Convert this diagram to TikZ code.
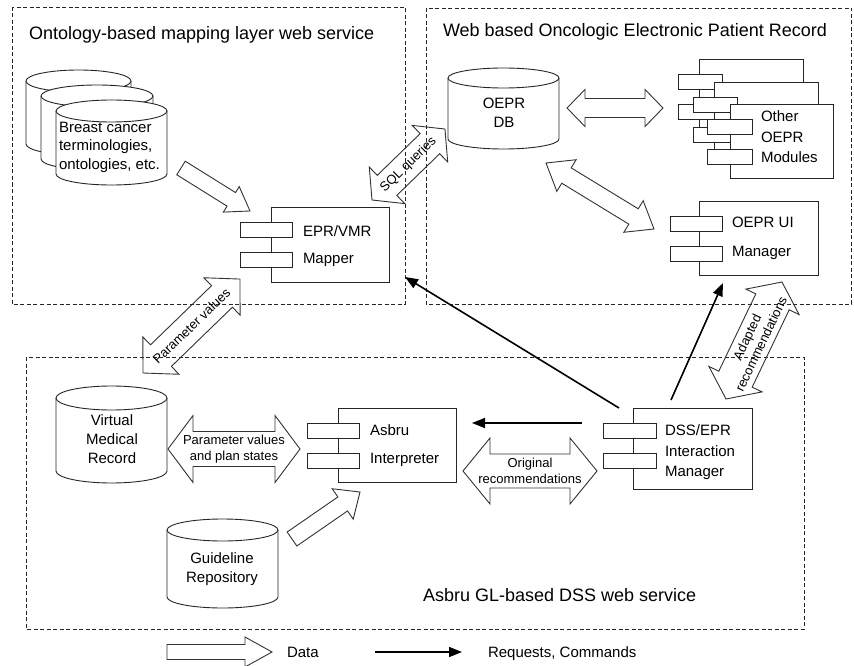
\documentclass[tikz,border=0pt]{standalone}
\usepackage{fontspec}
\setmainfont{Liberation Sans}
\usetikzlibrary{calc,arrows.meta}
\tikzset{
  every node/.style={inner sep=0pt, outer sep=0pt, text=black},
  region/.style={draw=black!85, line width=0.8pt, dash pattern=on 4pt off 2.5pt},
  comp/.style={draw=black!85, line width=0.9pt, fill=white},
  cylb/.style={draw=black!85, line width=0.9pt, fill=white},
  fat/.style={draw=black!80, line width=0.9pt, line join=miter},
  req/.style={draw=black, line width=1.6pt, -{Triangle[length=13pt,width=10pt]}},
  title/.style={font=\fontsize{18}{22}\selectfont, anchor=base west},
  lbl/.style={font=\fontsize{15}{19}\selectfont, anchor=base west},
  cyltext/.style={font=\fontsize{15}{19}\selectfont, align=center},
  arrlabel/.style={font=\fontsize{13}{15.5}\selectfont, align=center},
}
% double fat arrow: from, to, shaft half width, head half width, head length, label
\newcommand\fatdouble[6]{%
  \draw[fat] let \p1=($(#2)-(#1)$), \n1={atan2(\y1,\x1)}, \n2={veclen(\x1,\y1)} in
   [shift={(#1)}, rotate=\n1]
   (0pt,0pt) -- (#5pt,#4pt) -- (#5pt,#3pt) -- (\n2-#5pt,#3pt) -- (\n2-#5pt,#4pt) -- (\n2+0pt,0pt)
   -- (\n2-#5pt,-#4pt) -- (\n2-#5pt,-#3pt) -- (#5pt,-#3pt) -- (#5pt,-#4pt) -- cycle
   (\n2/2+0pt,0pt) node[arrlabel, rotate=\n1] {#6};}
% single fat arrow: from, to, shaft half width, head half width, head length
\newcommand\fatsingle[5]{%
  \draw[fat] let \p1=($(#2)-(#1)$), \n1={atan2(\y1,\x1)}, \n2={veclen(\x1,\y1)} in
   [shift={(#1)}, rotate=\n1]
   (0pt,-#3pt) -- (\n2-#5pt,-#3pt) -- (\n2-#5pt,-#4pt) -- (\n2+0pt,0pt)
   -- (\n2-#5pt,#4pt) -- (\n2-#5pt,#3pt) -- (0pt,#3pt) -- cycle;}
% cylinder: cx, rx, top, bottom, ry
\newcommand\cylinder[5]{%
  \draw[cylb] (#1-#2,#3+#5) -- (#1-#2,#4-#5)
    arc[start angle=180,end angle=360,x radius=#2pt,y radius=#5pt]
    -- (#1+#2,#3+#5)
    arc[start angle=0,end angle=180,x radius=#2pt,y radius=#5pt] -- cycle;
  \draw[cylb, fill=none] (#1-#2,#3+#5) arc[start angle=180,end angle=360,x radius=#2pt,y radius=#5pt];}
% component: name, left, top, right, bottom, small-left offset, small-right offset
\newcommand\component[7]{%
  \node[comp, anchor=north west, minimum width={#4-#2}, minimum height={#5-#3}] (#1) at (#2,#3) {};
  \draw[comp] (#2-#6,#3+15) rectangle (#2+#7,#3+30);
  \draw[comp] (#2-#6,#3+45) rectangle (#2+#7,#3+60);}

\begin{document}
\begin{tikzpicture}[x=1pt,y=-1pt]
\fill[white] (0,0) rectangle (854,666);
\useasboundingbox (0,0) rectangle (854,666);

% regions
\draw[region] (12,7) rectangle (405,304);
\draw[region] (426,8) rectangle (851.5,304);
\draw[region] (26,357) rectangle (804,629);
\node[title] (t1) at (29,39.5) {Ontology-based mapping layer web service};
\node[title] (t2) at (443,36.5) {Web based Oncologic Electronic Patient Record};
\node[title] (t3) at (423,601.5) {Asbru GL-based DSS web service};

% coordinates for fat arrows
\coordinate (sqlA) at (372,200);   \coordinate (sqlB) at (445,129);
\coordinate (pvA) at (143,373);    \coordinate (pvB) at (240,279);
\coordinate (adA) at (726,399);    \coordinate (adB) at (782,282);
\coordinate (psA) at (168,449);    \coordinate (psB) at (300,449);
\coordinate (orA) at (463,471);    \coordinate (orB) at (597,471);
\coordinate (dmA) at (567,108);    \coordinate (dmB) at (663,108);
\coordinate (duA) at (546,163);    \coordinate (duB) at (654,229);
\coordinate (bcA) at (181,168);    \coordinate (bcB) at (250,211);
\coordinate (glA) at (292,539);    \coordinate (glB) at (360,492);
\coordinate (lgA) at (167,652);    \coordinate (lgB) at (272,652);

\fatdouble{sqlA}{sqlB}{14}{25.5}{21}{SQL queries}
\fatdouble{pvA}{pvB}{15}{26}{25}{Parameter values}
\fatdouble{adA}{adB}{18.5}{29.5}{22}{Adapted\\recommendations}
\fatdouble{psA}{psB}{17.5}{33.5}{25}{Parameter values\\and plan states}
\fatdouble{orA}{orB}{17}{33}{27}{Original\\recommendations}
\fatdouble{dmA}{dmB}{9.5}{18.5}{18}{}
\fatdouble{duA}{duB}{9}{18.5}{24}{}
\fatsingle{bcA}{bcB}{8}{15}{22}
\fatsingle{glA}{glB}{8.5}{18.5}{21}
\fatsingle{lgA}{lgB}{7.5}{15}{27}

% cylinders
\cylinder{78.5}{52.5}{70}{155}{11}
\cylinder{97}{56}{85}{170}{11}
\cylinder{111.5}{55.5}{100}{185}{11}
\node[font=\fontsize{15}{18.5}\selectfont, align=left, anchor=west] (bc) at (59,147) {Breast cancer\\terminologies,\\ontologies, etc.};
\cylinder{503.5}{55.5}{68}{149}{10}
\node[cyltext] (oeprdb) at (504,113) {OEPR\\DB};
\cylinder{111.5}{55.5}{386}{483}{12}
\node[cyltext] (vmr) at (112,439) {Virtual\\Medical\\Record};
\cylinder{222.5}{55.5}{519}{608}{11}
\node[cyltext] (glr) at (222,569) {Guideline\\Repository};

% components
\component{mapper}{271}{207}{389}{282}{31}{21}
\node[lbl] at (303,236.5) {EPR/VMR};
\node[lbl] at (303,263.5) {Mapper};
\component{ui}{699}{201}{818}{275}{29}{23}
\node[lbl] at (732,227.5) {OEPR UI};
\node[lbl] at (732,256.5) {Manager};
\component{dss}{633}{408}{752}{489}{30}{23}
\node[lbl] at (665,435.5) {DSS/EPR};
\node[lbl] at (665,456.5) {Interaction};
\node[lbl] at (665,476.5) {Manager};
\component{asbru}{338}{408}{456}{482}{31}{21}
\node[lbl] at (370,435.5) {Asbru};
\node[lbl] at (370,463.5) {Interpreter};
\component{modA}{699}{59}{803}{133}{21}{23}
\component{modB}{714}{82}{818}{156}{21}{23}
\component{modC}{730}{104}{833}{178}{23}{22}
\node[lbl] at (761,121.5) {Other};
\node[lbl] at (761,142.5) {OEPR};
\node[lbl] at (761,162.5) {Modules};

% requests
\coordinate (r1s) at (619,408); \coordinate (r1e) at (405,277);
\coordinate (r2s) at (671,400); \coordinate (r2e) at (723,283);
\coordinate (r3s) at (582,423); \coordinate (r3e) at (472,423);
\coordinate (r4s) at (375,652); \coordinate (r4e) at (462,652);
\draw[req] (r1s) -- (r1e);
\draw[req] (r2s) -- (r2e);
\draw[req] (r3s) -- (r3e);
\draw[req] (r4s) -- (r4e);

% legend
\node[lbl] (ldata) at (287,657.5) {Data};
\node[lbl] (lreq) at (488,657.5) {Requests, Commands};
\end{tikzpicture}
\end{document}
